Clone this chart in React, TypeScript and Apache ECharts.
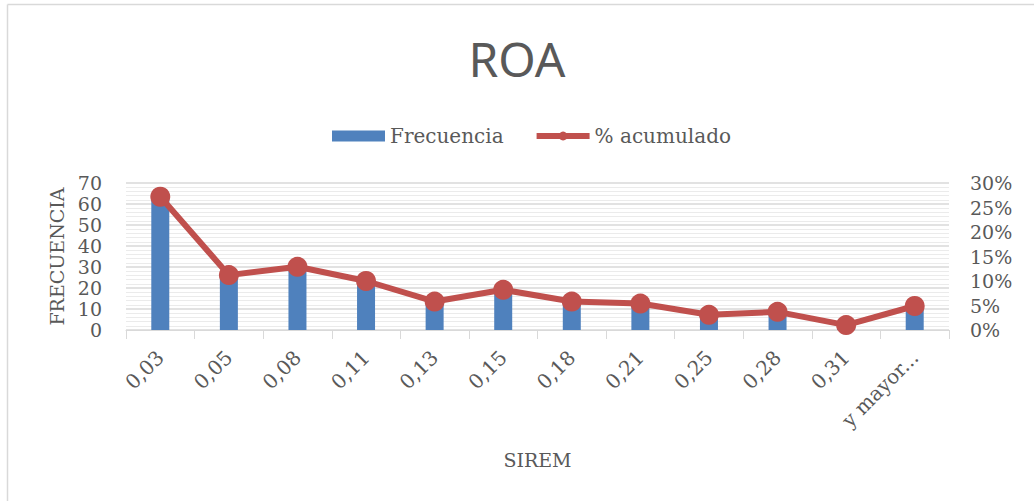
import React, { useEffect, useRef } from "react";
import * as echarts from "echarts";

const categories = ["0,03", "0,05", "0,08", "0,11", "0,13", "0,15", "0,18", "0,21", "0,25", "0,28", "0,31", "y mayor..."];
const frecuencia = [63, 26, 30, 23, 13, 19, 13, 12, 7, 9, 2, 11];
const acumulado = [27.2, 11.2, 12.9, 10.0, 5.8, 8.2, 5.8, 5.4, 3.1, 3.7, 1.0, 4.9];
const leftTicks = { min: 0, max: 70, interval: 10 };
const rightTicks = { min: 0, max: 30, interval: 5 };

const SERIF = "'DejaVu Serif', 'Liberation Serif', serif";
const TXT = "#595959";

export default function App() {
  const ref = useRef<HTMLDivElement>(null);
  useEffect(() => {
    if (!ref.current) return;
    const chart = echarts.init(ref.current, undefined, { renderer: "svg" });
    chart.setOption({
      animation: false,
      backgroundColor: "#ffffff",
      title: {
        text: "ROA",
        left: "center",
        top: 29,
        textStyle: { fontFamily: "'Noto Sans', sans-serif", fontSize: 48, fontWeight: "normal", color: TXT },
      },
      legend: {
        left: 327,
        top: 121,
        itemWidth: 53,
        itemHeight: 11,
        itemGap: 30,
        textStyle: { fontFamily: SERIF, fontSize: 20, color: TXT },
        data: [
          { name: "Frecuencia", icon: "rect" },
          { name: "% acumulado", lineStyle: { width: 6 } },
        ],
      },
      grid: { left: 126, right: 85, top: 183, bottom: 171 },
      xAxis: {
        type: "category",
        data: categories,
        name: "SIREM",
        nameLocation: "middle",
        nameGap: 120,
        nameTextStyle: { fontFamily: SERIF, fontSize: 19, color: TXT },
        axisLine: { lineStyle: { color: "#D9D9D9", width: 1 } },
        axisTick: { show: true, length: 9, lineStyle: { color: "#D9D9D9" } },
        axisLabel: { rotate: 45, margin: 24, fontFamily: SERIF, fontSize: 20, color: TXT, interval: 0 },
      },
      yAxis: [
        {
          type: "value",
          min: leftTicks.min,
          max: leftTicks.max,
          interval: leftTicks.interval,
          name: "FRECUENCIA",
          nameLocation: "middle",
          nameGap: 56,
          nameRotate: 90,
          nameTextStyle: { fontFamily: SERIF, fontSize: 19, color: TXT },
          axisLine: { show: false },
          axisTick: { show: false },
          axisLabel: { margin: 24, fontFamily: SERIF, fontSize: 19, color: TXT },
          splitLine: { show: true, lineStyle: { color: "#D9D9D9", width: 1.5 } },
          minorTick: { show: false, splitNumber: 5 },
          minorSplitLine: { show: true, lineStyle: { color: "#EBEBEB", width: 1 } },
        },
        {
          type: "value",
          min: rightTicks.min,
          max: rightTicks.max,
          interval: rightTicks.interval,
          axisLine: { show: false },
          axisTick: { show: false },
          splitLine: { show: false },
          axisLabel: {
            margin: 21,
            fontFamily: SERIF,
            fontSize: 19,
            color: TXT,
            formatter: (v: number) => `${Math.round(v)}%`,
          },
        },
      ],
      series: [
        {
          name: "Frecuencia",
          type: "bar",
          data: frecuencia,
          barWidth: 18,
          itemStyle: { color: "#4F81BD" },
          yAxisIndex: 0,
        },
        {
          name: "% acumulado",
          type: "line",
          data: acumulado,
          yAxisIndex: 1,
          symbol: "circle",
          symbolSize: 20,
          lineStyle: { color: "#C0504D", width: 6 },
          itemStyle: { color: "#C0504D" },
        },
      ],
      graphic: [
        { type: "line", shape: { x1: 7.5, y1: 4.5, x2: 1034, y2: 4.5 }, style: { stroke: "#D9D9D9", lineWidth: 1.5 } },
        { type: "line", shape: { x1: 7.5, y1: 4.5, x2: 7.5, y2: 501 }, style: { stroke: "#D9D9D9", lineWidth: 1.5 } },
      ],
    });
    return () => chart.dispose();
  }, []);
  return <div ref={ref} style={{ position: "fixed", left: 0, top: 0, width: 1034, height: 501 }} />;
}
